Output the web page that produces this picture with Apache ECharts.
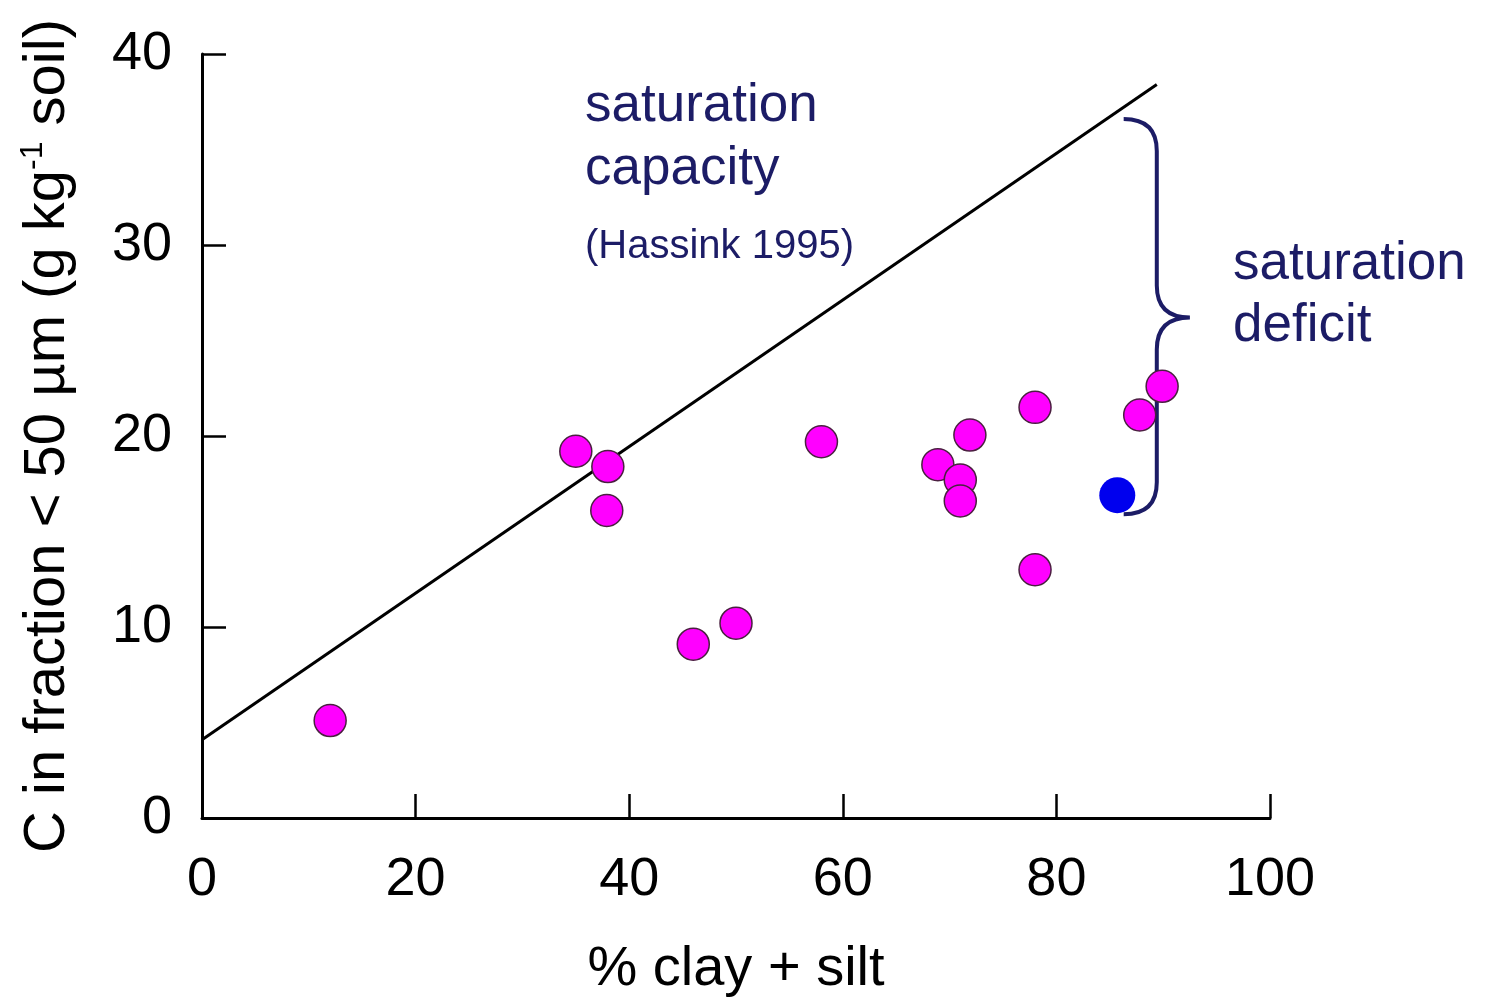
<!DOCTYPE html>
<html>
<head>
<meta charset="utf-8">
<script src="https://cdn.jsdelivr.net/npm/echarts@6/dist/echarts.min.js"></script>
<style>
  html, body { margin: 0; padding: 0; background: #fff; }
  #chart { width: 1491px; height: 1003px; }
</style>
</head>
<body>
<div id="chart"></div>
<script>
// soil samples: % clay + silt vs C in fraction < 50 µm
const soilPoints = [
  [12, 5.1], [35, 19.2], [38, 18.4], [37.9, 16.1], [46, 9.1], [50, 10.2],
  [58, 19.7], [68.9, 18.5], [71, 17.7], [71.9, 20.05], [71, 16.6],
  [78, 21.5], [78, 13.0], [87.8, 21.1], [89.9, 22.6]
];
const highlightPoint = [[85.7, 16.9]];
// saturation capacity line (Hassink 1995)
const capacityLine = [[0, 4.1], [89.4, 38.4]];
// curly brace anchors: x left, x stem, x tip, y top, y tip, y bottom
const braceAnchor = [[86.3, 89.4, 92.5, 36.6, 26.2, 15.9]];

const xTicks = [0, 20, 40, 60, 80, 100];
const yTicks = [0, 10, 20, 30, 40];

const navy = '#1c1c66';
const font = 'Liberation Sans, Arial, sans-serif';

const chart = echarts.init(document.getElementById('chart'));

const option = {
  backgroundColor: '#fff',
  animation: false,
  grid: { left: 202, right: 221, top: 54, bottom: 185 },
  xAxis: {
    type: 'value', min: 0, max: 100, interval: 20,
    name: '% clay + silt', nameLocation: 'middle', nameGap: 124,
    nameTextStyle: { fontSize: 56, color: '#000', fontFamily: font },
    axisLine: { lineStyle: { color: '#000', width: 3 } },
    axisTick: { inside: true, length: 24, lineStyle: { color: '#000', width: 2.5 } },
    axisLabel: { fontSize: 54, color: '#000', fontFamily: font, margin: 35,
      formatter: v => xTicks.includes(v) ? String(v) : '' },
    splitLine: { show: false }
  },
  yAxis: {
    type: 'value', min: 0, max: 40, interval: 10,
    name: '{n|C in fraction < 50 µm (g kg}{s|-1}{n| soil)}',
    nameLocation: 'middle', nameGap: 123,
    nameTextStyle: {
      color: '#000', fontFamily: font,
      rich: {
        n: { fontSize: 58, color: '#000', fontFamily: font },
        s: { fontSize: 32, color: '#000', fontFamily: font, verticalAlign: 'top', padding: [0, 0, 30, 0] }
      }
    },
    axisLine: { show: true, lineStyle: { color: '#000', width: 3 } },
    axisTick: { show: true, inside: true, length: 24, lineStyle: { color: '#000', width: 2.5 } },
    axisLabel: { fontSize: 54, color: '#000', fontFamily: font, margin: 30,
      formatter: v => yTicks.includes(v) ? String(v) : '' },
    splitLine: { show: false }
  },
  graphic: [
    { type: 'text', left: 585, top: 80, style: { text: 'saturation', fontSize: 53, fill: navy, fontFamily: font } },
    { type: 'text', left: 585, top: 143, style: { text: 'capacity', fontSize: 53, fill: navy, fontFamily: font } },
    { type: 'text', left: 585, top: 227, style: { text: '(Hassink 1995)', fontSize: 40, fill: navy, fontFamily: font } },
    { type: 'text', left: 1233, top: 238, style: { text: 'saturation', fontSize: 53, fill: navy, fontFamily: font } },
    { type: 'text', left: 1233, top: 300, style: { text: 'deficit', fontSize: 53, fill: navy, fontFamily: font } }
  ],
  series: [
    {
      type: 'line', data: capacityLine, symbol: 'none', z: 2,
      lineStyle: { color: '#000', width: 3 }
    },
    {
      type: 'custom', data: braceAnchor, z: 3,
      renderItem: (params, api) => {
        const top = api.coord([api.value(1), api.value(3)]);
        const tip = api.coord([api.value(2), api.value(4)]);
        const bot = api.coord([api.value(1), api.value(5)]);
        const xl = api.coord([api.value(0), api.value(3)])[0];
        const xm = top[0], xt = tip[0];
        const r = 32;
        const d = `M${xl},${top[1]} Q${xm},${top[1]} ${xm},${top[1] + r}` +
          ` L${xm},${tip[1] - r} Q${xm},${tip[1]} ${xt},${tip[1]}` +
          ` Q${xm},${tip[1]} ${xm},${tip[1] + r}` +
          ` L${xm},${bot[1] - r} Q${xm},${bot[1]} ${xl},${bot[1]}`;
        return { type: 'path', shape: { pathData: d },
          style: { fill: 'none', stroke: navy, lineWidth: 4 } };
      }
    },
    {
      type: 'scatter', data: soilPoints, symbolSize: 32, z: 4,
      itemStyle: { color: '#ff00ff', borderColor: '#4a2040', borderWidth: 1.5, opacity: 1 }
    },
    {
      type: 'scatter', data: highlightPoint, symbolSize: 36, z: 4,
      itemStyle: { color: '#0000ee', borderWidth: 0, opacity: 1 }
    }
  ]
};

chart.setOption(option);
</script>
</body>
</html>
